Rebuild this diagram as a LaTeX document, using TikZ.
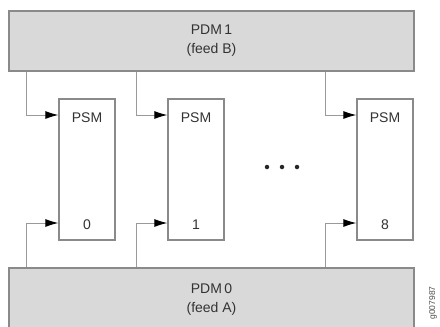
\documentclass[tikz,border=0pt]{standalone}
\usepackage{fontspec}
\setmainfont{Liberation Sans}
\usetikzlibrary{arrows.meta,calc}
\definecolor{boxfill}{HTML}{D9D9D9}
\definecolor{boxline}{HTML}{8A8A8A}
\definecolor{connline}{HTML}{9A9A9A}
\definecolor{txt}{HTML}{333333}
\begin{document}
\begin{tikzpicture}[x=1pt,y=-1pt,
  pdmbox/.style={draw=boxline,line width=1.5pt,fill=boxfill,minimum width=405pt,inner sep=0pt,
    align=center,text=txt,font=\fontsize{14}{19}\selectfont},
  psmbox/.style={draw=boxline,line width=1.3pt,fill=white,minimum width=56pt,minimum height=141pt,inner sep=0pt},
  lbl/.style={text=txt,font=\fontsize{14}{16}\selectfont,inner sep=0pt},
  conn/.style={draw=connline,line width=0.9pt,arrows={-{Latex[length=13pt,width=8pt,color=black]}}},
  dotst/.style={circle,fill=black!85,inner sep=0pt,minimum size=4.5pt}]
\useasboundingbox (0,0) rectangle (440,327);
\clip (0,0) rectangle (440,327);
\node[pdmbox,minimum height=60pt] (pdm1) at (211.5,41) {PDM\,1\\(feed B)};
\node[pdmbox,minimum height=64pt] (pdm0) at (211.5,300) {PDM\,0\\(feed A)};
\node[psmbox] (psm0) at (87,169.5) {};
\node[psmbox] (psm1) at (196,169.5) {};
\node[psmbox] (psm8) at (385,169.5) {};
\foreach \n/\k in {psm0/0,psm1/1,psm8/8}{
  \node[lbl] (\n t) at ($(\n.center)+(0,-52)$) {PSM};
  \node[lbl] (\n n) at ($(\n.center)+(0,55)$) {\k};
}
\foreach \n/\x in {psm0/26,psm1/136,psm8/325}{
  \draw[conn] (pdm1.south -| \x,0) |- (\n.west |- 0,115);
  \draw[conn] (pdm0.north -| \x,0) |- (\n.west |- 0,223);
}
\node[dotst] (d1) at (267,167) {};
\node[dotst] (d2) at (282,167) {};
\node[dotst] (d3) at (297,167) {};
\node[rotate=90,text=black!70,font=\fontsize{8.5}{9}\selectfont,inner sep=0pt] (code) at (433,303) {g007987};
\end{tikzpicture}
\end{document}
